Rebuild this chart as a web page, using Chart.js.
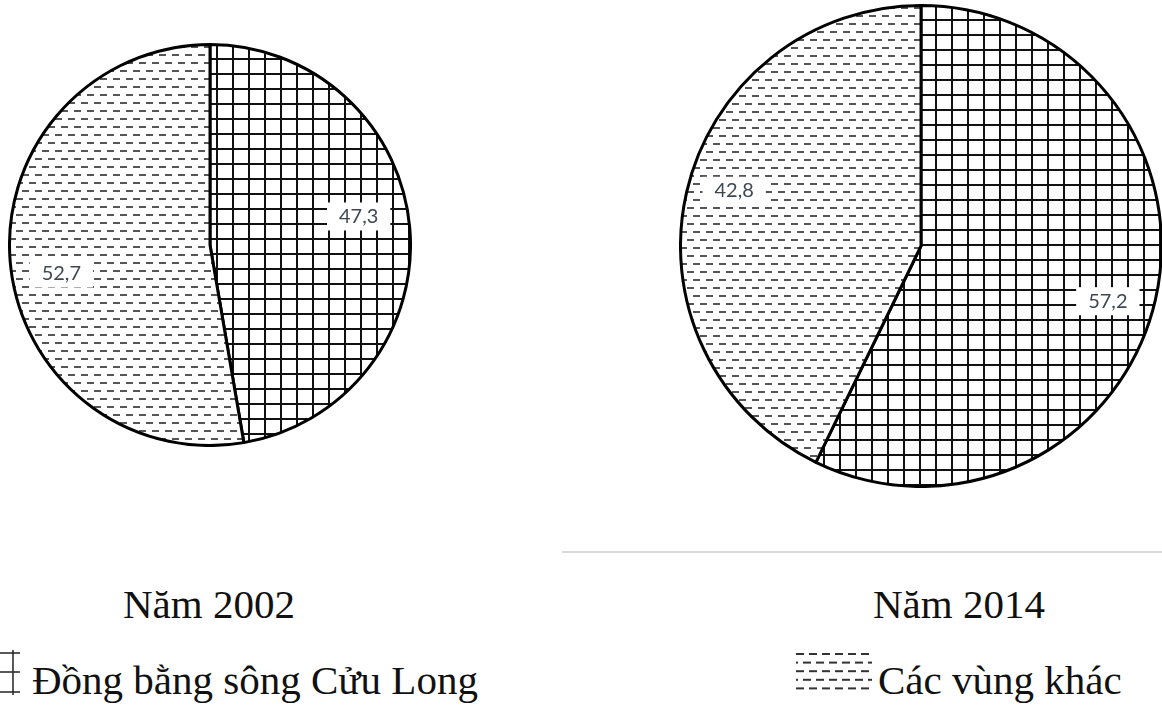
<!DOCTYPE html>
<html>
<head>
<meta charset="utf-8">
<script src="https://cdn.jsdelivr.net/npm/chart.js@4"></script>
<style>
  html, body { margin:0; padding:0; background:#fff; width:1162px; height:705px; overflow:hidden; }
  body { position:relative; font-family:"Liberation Serif","Times New Roman",serif; }
  .abs { position:absolute; }
  .title, .leg { font-size:41px; color:#111; white-space:nowrap; line-height:1; }
</style>
</head>
<body>
<div class="abs" style="left:8px;top:43px;width:404px;height:404px;"><canvas id="c1"></canvas></div>
<div class="abs" style="left:679px;top:4px;width:484px;height:484px;"><canvas id="c2"></canvas></div>
<div class="abs" style="left:562px;top:551px;width:600px;height:2px;background:#dadada;"></div>
<div class="abs title" id="t1" style="left:123px;top:584px;"></div>
<div class="abs title" id="t2" style="left:873px;top:584px;"></div>
<canvas class="abs" id="lg1" width="45" height="48" style="left:-25px;top:648px;"></canvas>
<div class="abs leg" id="l1" style="left:32px;top:660px;"></div>
<canvas class="abs" id="lg2" width="78" height="42" style="left:796px;top:650px;"></canvas>
<div class="abs leg" id="l2" style="left:878px;top:660px;"></div>
<script>
// ---- data ----
const categories = ["Đồng bằng sông Cửu Long", "Các vùng khác"];
const years = ["Năm 2002", "Năm 2014"];
const values2002 = [47.3, 52.7];
const values2014 = [57.2, 42.8];

document.getElementById('t1').textContent = years[0];
document.getElementById('t2').textContent = years[1];
document.getElementById('l1').textContent = categories[0];
document.getElementById('l2').textContent = categories[1];

function gridPattern() {
  const c = document.createElement('canvas');
  c.width = 16; c.height = 15;
  const g = c.getContext('2d');
  g.fillStyle = '#fff'; g.fillRect(0,0,16,15);
  g.fillStyle = '#111';
  g.fillRect(0,0,2,15);
  g.fillRect(0,0,16,2);
  return g.createPattern(c, 'repeat');
}
function dashPattern() {
  const c = document.createElement('canvas');
  c.width = 13; c.height = 16;
  const g = c.getContext('2d');
  g.fillStyle = '#fff'; g.fillRect(0,0,13,16);
  g.fillStyle = '#555';
  g.fillRect(1,3,7,2);
  g.fillRect(8,11,5,2);
  g.fillRect(0,11,2,2);
  return g.createPattern(c, 'repeat');
}

// legend icons
(function(){
  const g = document.getElementById('lg1').getContext('2d');
  g.strokeStyle = '#222'; g.lineWidth = 1.5;
  [5,24,44].forEach(y => { g.beginPath(); g.moveTo(0,y); g.lineTo(45,y); g.stroke(); });
  [19,38].forEach(x => { g.beginPath(); g.moveTo(x,2); g.lineTo(x,47); g.stroke(); });
  const h = document.getElementById('lg2').getContext('2d');
  h.fillStyle = '#333';
  for (let r = 0; r < 5; r++) {
    const y = 3 + r * 8.6;
    const off = (r % 2) ? 6 : 0;
    for (let x = -off; x < 78; x += 13) {
      const x0 = Math.max(x, 0), x1 = Math.min(x + 8, 76);
      if (x1 > x0) h.fillRect(x0, y, x1 - x0, 2);
    }
  }
})();

const labelPlugin = {
  id: 'boxLabels',
  afterDatasetsDraw(chart) {
    const o = chart.options.plugins.boxLabels;
    const ctx = chart.ctx;
    const ds = chart.data.datasets[0];
    chart.getDatasetMeta(0).data.forEach((arc, i) => {
      const mid = (arc.startAngle + arc.endAngle) / 2 + o.rotate * Math.PI / 180;
      const x = arc.x + Math.cos(mid) * arc.outerRadius * o.radius;
      const y = arc.y + Math.sin(mid) * arc.outerRadius * o.radius;
      const txt = ds.data[i].toFixed(1).replace('.', ',');
      ctx.save();
      ctx.font = '20px Lato, "Open Sans", sans-serif';
      const w = ctx.measureText(txt).width + 24;
      const h = 28;
      ctx.fillStyle = '#fff';
      ctx.fillRect(x - w/2, y - h/2, w, h);
      ctx.fillStyle = '#3f4852';
      ctx.textAlign = 'center';
      ctx.textBaseline = 'middle';
      ctx.fillText(txt, x, y);
      ctx.restore();
    });
  }
};

function makePie(id, values, radius, rotate) {
  return new Chart(document.getElementById(id), {
    type: 'pie',
    data: {
      labels: categories,
      datasets: [{
        data: values,
        backgroundColor: [gridPattern(), dashPattern()],
        borderColor: '#000',
        borderWidth: 3,
        hoverOffset: 0
      }]
    },
    options: {
      responsive: true,
      maintainAspectRatio: false,
      animation: false,
      events: [],
      layout: { padding: 0 },
      plugins: {
        legend: { display: false },
        tooltip: { enabled: false },
        boxLabels: { radius: radius, rotate: rotate }
      }
    },
    plugins: [labelPlugin]
  });
}
makePie('c1', values2002, 0.755, -6);
makePie('c2', values2014, 0.81, 3.5);
</script>
</body>
</html>
